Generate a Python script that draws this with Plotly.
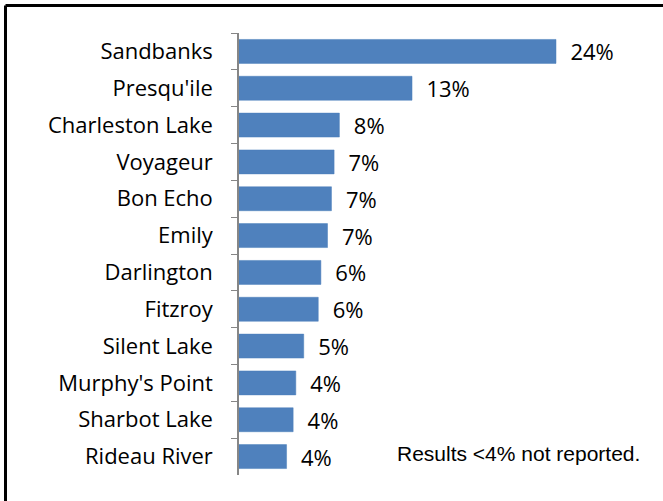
import plotly.graph_objects as go

parks = ["Sandbanks", "Presqu'ile", "Charleston Lake", "Voyageur", "Bon Echo", "Emily",
         "Darlington", "Fitzroy", "Silent Lake", "Murphy's Point", "Sharbot Lake", "Rideau River"]
share = [24.0, 13.1, 7.6, 7.2, 7.0, 6.7, 6.2, 6.0, 4.9, 4.3, 4.1, 3.6]
note = "Results <4% not reported."

# plot area: x 239..640, y 33..475
W, H = 663, 501
L, R, T, B = 239, 23, 33, 26
pw, ph = W - L - R, H - T - B

fig = go.Figure()
fig.add_trace(go.Bar(
    y=parks,
    x=share,
    orientation="h",
    marker=dict(color="#4F81BD", line=dict(color="#4A7EBB", width=0.5)),
    text=share,
    texttemplate="\u00a0\u00a0%{x:.0f}%",
    textposition="outside",
    textfont=dict(family="Open Sans", size=22, color="black"),
    cliponaxis=False,
    hoverinfo="skip",
))

# frame: only the top and left edges show, the rest runs off the picture
fx = (5.5 - L) / pw
fy = (H - B - 5.5) / ph
frame = [
    dict(type="line", xref="paper", yref="paper", x0=fx, x1=(W - L) / pw, y0=fy, y1=fy,
         line=dict(color="black", width=3)),
    dict(type="line", xref="paper", yref="paper", x0=fx, x1=fx, y0=-B / ph, y1=fy,
         line=dict(color="black", width=3)),
]

fig.update_layout(
    width=W, height=H,
    margin=dict(l=L, r=R, t=T, b=B),
    paper_bgcolor="white",
    plot_bgcolor="white",
    showlegend=False,
    bargap=0.35,
    uniformtext=dict(minsize=22, mode="show"),
    xaxis=dict(range=[0, pw / (317 / 24.0)], visible=False, fixedrange=True),
    yaxis=dict(
        autorange="reversed",
        type="category",
        tickson="boundaries",
        ticks="outside",
        ticklen=6,
        tickcolor="#868686",
        showline=True,
        linecolor="#868686",
        linewidth=1.5,
        showgrid=False,
        automargin=False,
        fixedrange=True,
        tickfont=dict(family="Open Sans", size=22, color="black"),
        ticklabelstandoff=20,
    ),
    shapes=frame,
    annotations=[dict(
        text=note, xref="paper", yref="paper",
        x=(395 - L) / pw, y=(H - B - 453) / ph,
        xanchor="left", yanchor="middle", showarrow=False,
        font=dict(family="Liberation Sans", size=21, color="black"),
    )],
)

page_css = ("document.body.style.margin='0';"
            "document.body.style.overflow='hidden';"
            "document.documentElement.style.overflow='hidden';")
fig.write_html("out.html", config={"displayModeBar": False}, post_script=page_css)
